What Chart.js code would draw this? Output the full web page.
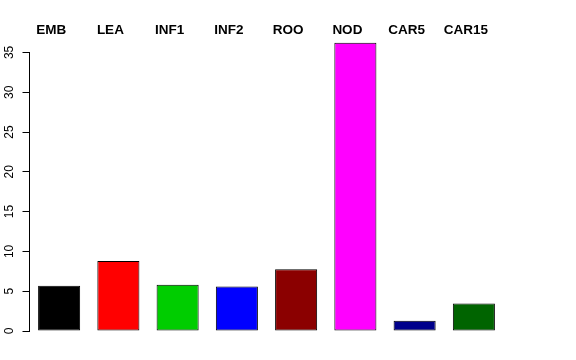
<!DOCTYPE html>
<html>
<head>
<meta charset="utf-8">
<script src="https://cdn.jsdelivr.net/npm/chart.js@4"></script>
<style>
  html, body { margin: 0; padding: 0; background: #fff; }
  #wrap { width: 576px; height: 360px; }
</style>
</head>
<body>
<div id="wrap"><canvas id="barChart"></canvas></div>
<script>
// data
const categories = ['EMB', 'LEA', 'INF1', 'INF2', 'ROO', 'NOD', 'CAR5', 'CAR15'];
const values = [5.7, 8.8, 5.8, 5.6, 7.75, 36.2, 1.3, 3.45];
const barColors = ['#000000', '#ff0000', '#00cd00', '#0000ff', '#8b0000', '#ff00ff', '#00008b', '#006400'];
const yTicks = [0, 5, 10, 15, 20, 25, 30, 35];

const fontFamily = '"Liberation Sans", Arial, Helvetica, sans-serif';

// y axis line spans first..last tick only, and the bar names sit a bit left of centre (like mtext in R)
const rAxis = {
  id: 'rAxis',
  afterDraw(chart) {
    const x = chart.scales.x;
    const y = chart.scales.y;
    const ctx = chart.ctx;
    const lx = Math.round(chart.chartArea.left) - 0.5;
    ctx.save();
    ctx.strokeStyle = '#000';
    ctx.lineWidth = 1;
    ctx.beginPath();
    ctx.moveTo(lx, y.getPixelForValue(yTicks[0]));
    ctx.lineTo(lx, y.getPixelForValue(yTicks[yTicks.length - 1]));
    ctx.stroke();

    ctx.fillStyle = '#000';
    ctx.font = 'bold 13.5px ' + fontFamily;
    ctx.textAlign = 'center';
    ctx.textBaseline = 'alphabetic';
    categories.forEach((c, i) => {
      ctx.fillText(c, x.getPixelForTick(i) - 8, 33.5);
    });
    ctx.restore();
  }
};

Chart.defaults.font.family = fontFamily;
Chart.defaults.color = '#000';

new Chart(document.getElementById('barChart'), {
  type: 'bar',
  data: {
    labels: categories,
    datasets: [{
      data: values,
      backgroundColor: barColors,
      borderColor: '#000',
      borderWidth: 1,
      borderSkipped: false,
      categoryPercentage: 1,
      barPercentage: 0.71
    }]
  },
  options: {
    responsive: true,
    maintainAspectRatio: false,
    animation: false,
    layout: { padding: { left: 0, right: 72.5, top: 0, bottom: 29 } },
    plugins: { legend: { display: false }, tooltip: { enabled: false } },
    scales: {
      x: {
        position: 'top',
        grid: { display: false, drawTicks: false },
        border: { display: false },
        ticks: { display: false },
        afterFit(scale) { scale.height = 36.5; }
      },
      y: {
        min: 0,
        max: 37,
        grid: { drawOnChartArea: false, drawTicks: true, tickLength: 7, color: '#000' },
        border: { display: false },
        ticks: { font: { size: 12 }, minRotation: 90, maxRotation: 90, padding: 6, crossAlign: 'center' },
        afterBuildTicks(scale) { scale.ticks = yTicks.map(v => ({ value: v })); },
        afterFit(scale) { scale.width = 29.5; }
      }
    }
  },
  plugins: [rAxis]
});
</script>
</body>
</html>
